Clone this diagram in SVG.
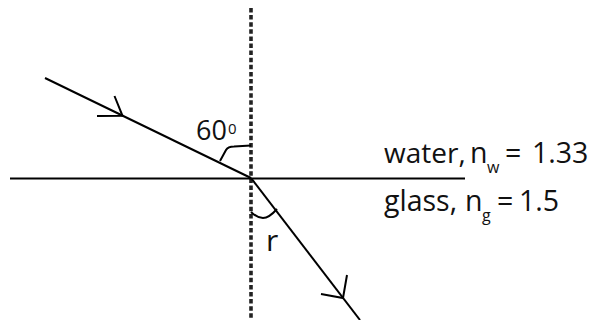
<svg xmlns="http://www.w3.org/2000/svg" width="595" height="320" viewBox="0 0 595 320">
  <style>
    .ln { stroke: #000; stroke-width: 2; fill: none; stroke-linecap: butt; }
    .normal { stroke: #222; stroke-width: 3.6; fill: none; stroke-dasharray: 4.5 2.6; }
    .arc { stroke: #000; stroke-width: 2; fill: none; stroke-linejoin: round; }
    .t { font-family: "Open Sans", "Liberation Sans", sans-serif; font-size: 28.5px; fill: #111; }
    .sub { font-family: "Open Sans", "Liberation Sans", sans-serif; font-size: 16px; fill: #111; }
  </style>
  <rect width="595" height="320" fill="#fff"/>
  <g id="connectors">
    <line id="normal" class="normal" x1="251" y1="8" x2="251" y2="320"/>
    <line id="interface" class="ln" x1="10" y1="178.5" x2="465" y2="178.5"/>
    <line id="incident-ray" class="ln" x1="45" y1="78" x2="251" y2="178"/>
    <line id="refracted-ray" class="ln" x1="251" y1="178" x2="360" y2="320"/>
    <polyline class="ln" points="97,116 122.5,115.8 114.5,96"/>
    <polyline class="ln" points="321,294 343,298 347,275"/>
    <path id="angle-60" class="arc" d="M220,161 L226,150 Q228,146.5 234,146.5 L251,145.5"/>
    <path id="angle-r" class="arc" d="M251,212 Q257,218 263,218 Q269,218 277,209"/>
  </g>
  <g id="label-60">
    <text class="t" x="196" y="140" style="font-size:27px">60</text>
    <text class="sub" x="228" y="133.5" style="font-size:15px">0</text>
  </g>
  <g id="label-r">
    <text class="t" x="266" y="251" style="font-size:30px">r</text>
  </g>
  <g id="label-water">
    <text class="t" x="384" y="162.5" style="font-size:28px">water,</text>
    <text class="t" x="470" y="162.5">n</text>
    <text class="sub" x="487" y="173">w</text>
    <text class="t" x="505" y="162.5">=</text>
    <text class="t" x="532" y="162.5">1.33</text>
  </g>
  <g id="label-glass">
    <text class="t" x="384" y="210.5">glass,</text>
    <text class="t" x="465" y="210.5">n</text>
    <text class="sub" x="482" y="221">g</text>
    <text class="t" x="497" y="210.5">=</text>
    <text class="t" x="519" y="210.5">1.5</text>
  </g>
</svg>
